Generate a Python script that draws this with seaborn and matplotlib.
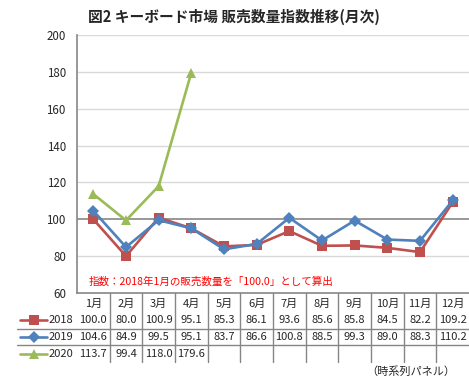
import numpy as np
import pandas as pd
import seaborn as sns
import matplotlib
matplotlib.use('Agg')
import matplotlib.pyplot as plt
from matplotlib.lines import Line2D
from matplotlib.transforms import blended_transform_factory

# data
months = ['1月', '2月', '3月', '4月', '5月', '6月', '7月', '8月', '9月', '10月', '11月', '12月']
years = ['2018', '2019', '2020']
idx_2018 = [100.0, 80.0, 100.9, 95.1, 85.3, 86.1, 93.6, 85.6, 85.8, 84.5, 82.2, 109.2]
idx_2019 = [104.6, 84.9, 99.5, 95.1, 83.7, 86.6, 100.8, 88.5, 99.3, 89.0, 88.3, 110.2]
idx_2020 = [113.7, 99.4, 118.0, 179.6]
yticks = [60, 80, 100, 120, 140, 160, 180, 200]

colors = {'2018': '#C0504D', '2019': '#4F81BD', '2020': '#9BBB59'}
markers = {'2018': 's', '2019': 'D', '2020': '^'}
msizes = {'2018': 7, '2019': 6, '2020': 7}

series = {'2018': idx_2018, '2019': idx_2019, '2020': idx_2020}
rows = []
for y in years:
    for i, v in enumerate(series[y]):
        rows.append({'pos': i, 'month': months[i], 'year': y, 'value': v})
df = pd.DataFrame(rows)

sns.set_style('white')
plt.rcParams['font.family'] = ['Noto Sans CJK JP', 'DejaVu Sans']

W, H = 469, 379
fig = plt.figure(figsize=(W / 100, H / 100), dpi=100)
ax = fig.add_axes([77 / W, (H - 293) / H, 392 / W, (293 - 35) / H])

# grid lines first
for t in yticks[1:]:
    ax.axhline(t, color='#868686' if t == 100 else '#D9D9D9', lw=1.2 if t == 100 else 1.0, zorder=0)

sns.lineplot(data=df, x='pos', y='value', hue='year', style='year',
             palette=colors, markers=markers, dashes=False, lw=1.9,
             markersize=7, markeredgewidth=0, legend=False, ax=ax, zorder=3)
for line, y in zip(ax.get_lines()[len(yticks) - 1:], years):
    line.set_markersize(msizes[y])

ax.set_xlim(-0.5, 11.5)
ax.set_ylim(60, 200)
ax.set_yticks(yticks)
ax.set_xticks([])
ax.set_xlabel('')
ax.set_ylabel('')
ax.tick_params(axis='y', length=0, pad=8, labelsize=8.3)
for s in ['top', 'right']:
    ax.spines[s].set_visible(False)
for s in ['left', 'bottom']:
    ax.spines[s].set_color('#868686')
    ax.spines[s].set_linewidth(1.2)

fig.text(234 / W, 1 - 17 / H, '図2 キーボード市場 販売数量指数推移(月次)',
         ha='center', va='center', fontsize=10.6, fontweight='bold')

fig.text(89 / W, 1 - 282 / H, '指数：2018年1月の販売数量を「100.0」として算出',
         ha='left', va='center', fontsize=7.6, color='#FF0000')

# data table under the chart
tr = blended_transform_factory(ax.transData, fig.transFigure)
header_y = 1 - 304 / H
row_y = [1 - 320 / H, 1 - 337 / H, 1 - 354 / H]
for i, m in enumerate(months):
    ax.text(i, header_y, m, transform=tr, ha='center', va='center', fontsize=8)
for y, ry in zip(years, row_y):
    for i, v in enumerate(series[y]):
        ax.text(i, ry, f'{v:.1f}', transform=tr, ha='center', va='center', fontsize=8)
    fig.add_artist(Line2D([20 / W, 47 / W], [ry, ry], color=colors[y], lw=1.9,
                          transform=fig.transFigure))
    fig.add_artist(Line2D([33.5 / W], [ry], color=colors[y], marker=markers[y],
                          markersize=msizes[y], markeredgewidth=0, transform=fig.transFigure))
    fig.text(49 / W, ry, y, ha='left', va='center', fontsize=8)

# table borders
for k in range(1, 12):
    ax.plot([k - 0.5, k - 0.5], [1 - 293 / H, 1 - 362 / H], transform=tr,
            color='#868686', lw=1.0, clip_on=False)
for hy in [329, 345]:
    fig.add_artist(Line2D([17 / W, 469 / W], [1 - hy / H, 1 - hy / H], color='#868686',
                          lw=1.0, transform=fig.transFigure))

fig.text(455 / W, 1 - 372 / H, '（時系列パネル）', ha='right', va='center', fontsize=8)

fig.savefig('out.png', dpi=100)
